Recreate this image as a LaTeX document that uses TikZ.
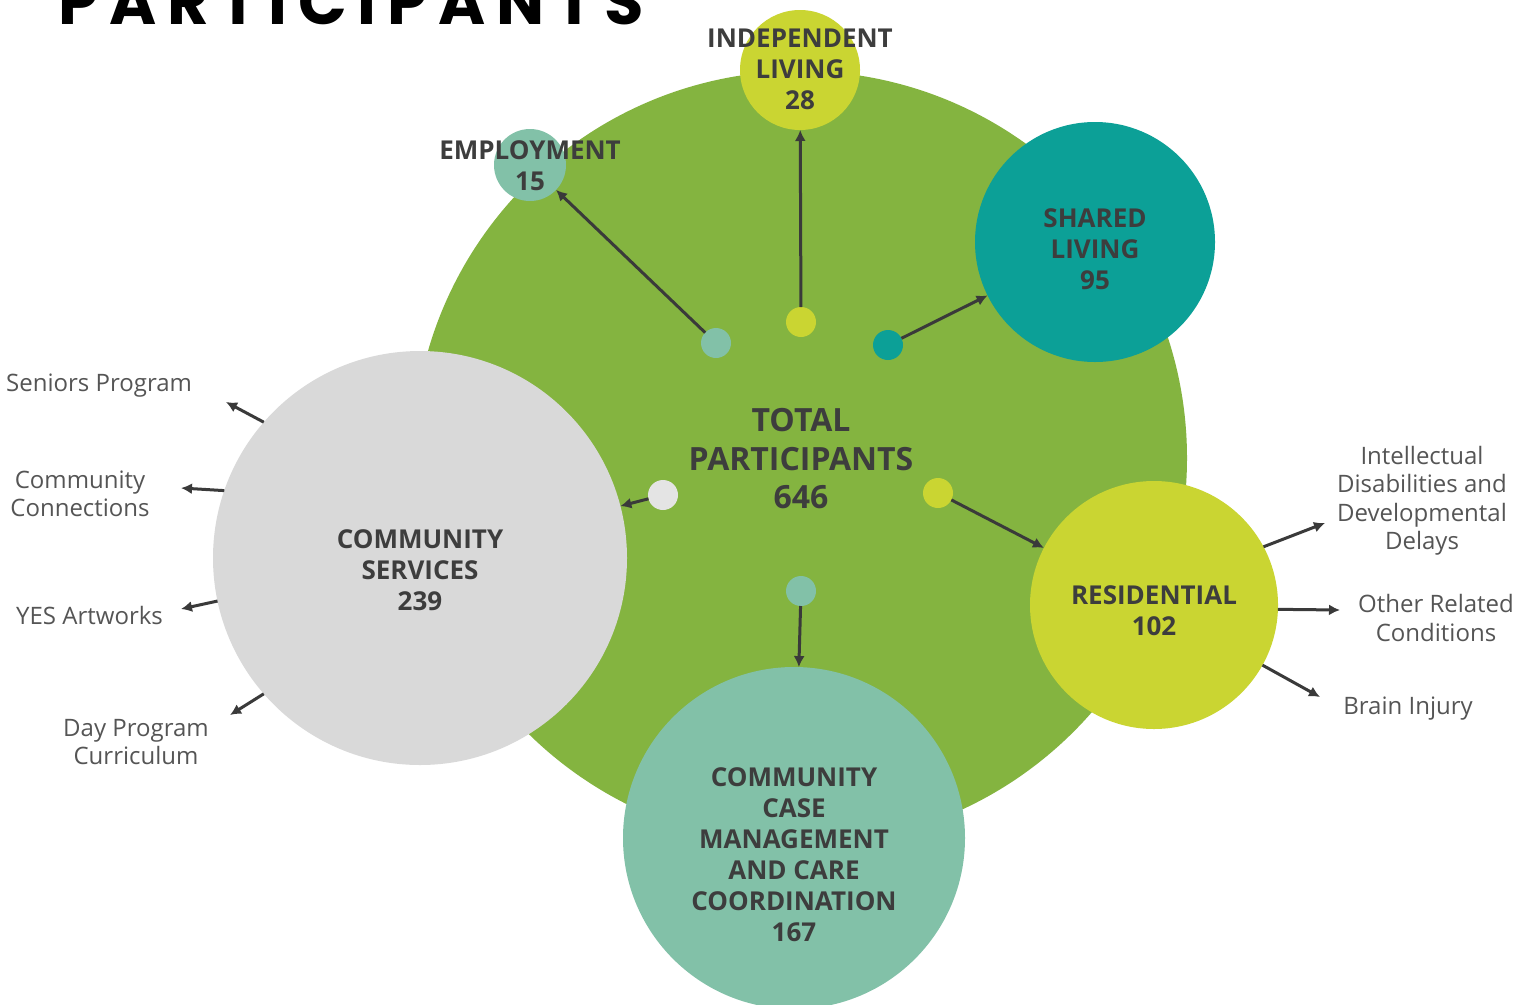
\documentclass[tikz,border=0pt]{standalone}
\usepackage{fontspec}
\setmainfont{Open Sans}
\newfontfamily\titlefont{Poppins}[LetterSpace=17]
\usetikzlibrary{arrows.meta}
\definecolor{biggreen}{HTML}{84B440}
\definecolor{lime}{HTML}{CAD532}
\definecolor{sage}{HTML}{82C1A8}
\definecolor{teal2}{HTML}{0CA097}
\definecolor{lgrey}{HTML}{D9D9D9}
\definecolor{dotgrey}{HTML}{E4E4E4}
\definecolor{labelc}{HTML}{3D3D3D}
\definecolor{sidec}{HTML}{555555}
\definecolor{arrowc}{HTML}{3A3A3A}
\begin{document}
\begin{tikzpicture}[x=1pt,y=-1pt,
  bubble/.style={circle, inner sep=0pt, outer sep=0pt, draw=none, minimum size=#1},
  dotnode/.style={circle, inner sep=0pt, outer sep=0pt, draw=none, minimum size=30pt},
  arr/.style={-{Latex[length=11pt,width=11pt]}, line width=3pt, draw=arrowc},
  biglabel/.style={font=\fontsize{26}{31}\selectfont\bfseries, text=labelc, align=center, inner sep=0pt},
  sidelabel/.style={font=\fontsize{24}{28.5}\selectfont, text=sidec, align=center, inner sep=0pt}]
\useasboundingbox (0,0) rectangle (1530,1004);
\clip (0,0) rectangle (1530,1004);
\fill[white] (0,0) rectangle (1530,1004);

% title
\node[anchor=base west, inner sep=0pt, text=black] (title) at (58,24)
  {\titlefont\bfseries\fontsize{64}{64}\selectfont PARTICIPANTS};

% bubbles
\node[bubble=774pt, fill=biggreen] (total) at (800,458) {};
\node[bubble=72pt, fill=sage] (emp) at (530,165) {};
\node[bubble=120pt, fill=lime] (ind) at (800,70) {};
\node[bubble=240pt, fill=teal2] (shared) at (1095,242) {};
\node[bubble=414pt, fill=lgrey] (cs) at (420,558) {};
\node[bubble=248pt, fill=lime] (res) at (1154,605) {};
\node[bubble=342pt, fill=sage] (ccm) at (794,838) {};

% dots
\node[dotnode, fill=sage] (d1) at (716,343) {};
\node[dotnode, fill=lime] (d2) at (801,322) {};
\node[dotnode, fill=teal2] (d3) at (888,345) {};
\node[dotnode, fill=dotgrey] (d4) at (663,495) {};
\node[dotnode, fill=lime] (d5) at (938,493) {};
\node[dotnode, fill=sage] (d6) at (801,591) {};

% arrows from dots
\draw[arr] (d1) -- (emp);
\draw[arr] (d2) -- (ind);
\draw[arr] (d3) -- (shared);
\draw[arr] (d4) -- (cs);
\draw[arr] (d5) -- (res);
\draw[arr] (d6) -- (ccm);

% outgoing coordinates
\coordinate (cs1) at (226,402);
\coordinate (cs2) at (181,488);
\coordinate (cs3) at (181,609);
\coordinate (cs4) at (230,715);
\coordinate (r1) at (1325,523);
\coordinate (r2) at (1340,610);
\coordinate (r3) at (1320,697);
\draw[arr] (cs.139.2) -- (cs1);
\draw[arr] (cs.161.6) -- (cs2);
\draw[arr] (cs.192) -- (cs3);
\draw[arr] (cs.221.4) -- (cs4);
\draw[arr] (res.28.4) -- (r1);
\draw[arr] (res.358) -- (r2);
\draw[arr] (res.331.8) -- (r3);

% bubble labels
\node[biglabel] (indt) at (800,69) {INDEPENDENT\\LIVING\\28};
\node[biglabel] (empt) at (530,166) {EMPLOYMENT\\15};
\node[biglabel] (sharedt) at (1095,249) {SHARED\\LIVING\\95};
\node[biglabel, font=\fontsize{32}{38.5}\selectfont\bfseries] (totalt) at (801,459) {TOTAL\\PARTICIPANTS\\646};
\node[biglabel] (cst) at (420,570) {COMMUNITY\\SERVICES\\239};
\node[biglabel] (rest) at (1154,611) {RESIDENTIAL\\102};
\node[biglabel] (ccmt) at (794,855) {COMMUNITY\\CASE\\MANAGEMENT\\AND CARE\\COORDINATION\\167};

% side labels
\node[sidelabel, anchor=west] (sen) at (6,386) {Seniors Program};
\node[sidelabel] (comc) at (80,494) {Community\\Connections};
\node[sidelabel, anchor=west] (yes) at (16,615) {YES Artworks};
\node[sidelabel] (day) at (136,742) {Day Program\\Curriculum};
\node[sidelabel] (idd) at (1422,501) {Intellectual\\Disabilities and\\Developmental\\Delays};
\node[sidelabel] (orc) at (1436,618) {Other Related\\Conditions};
\node[sidelabel] (brain) at (1408,709) {Brain Injury};
\end{tikzpicture}
\end{document}
